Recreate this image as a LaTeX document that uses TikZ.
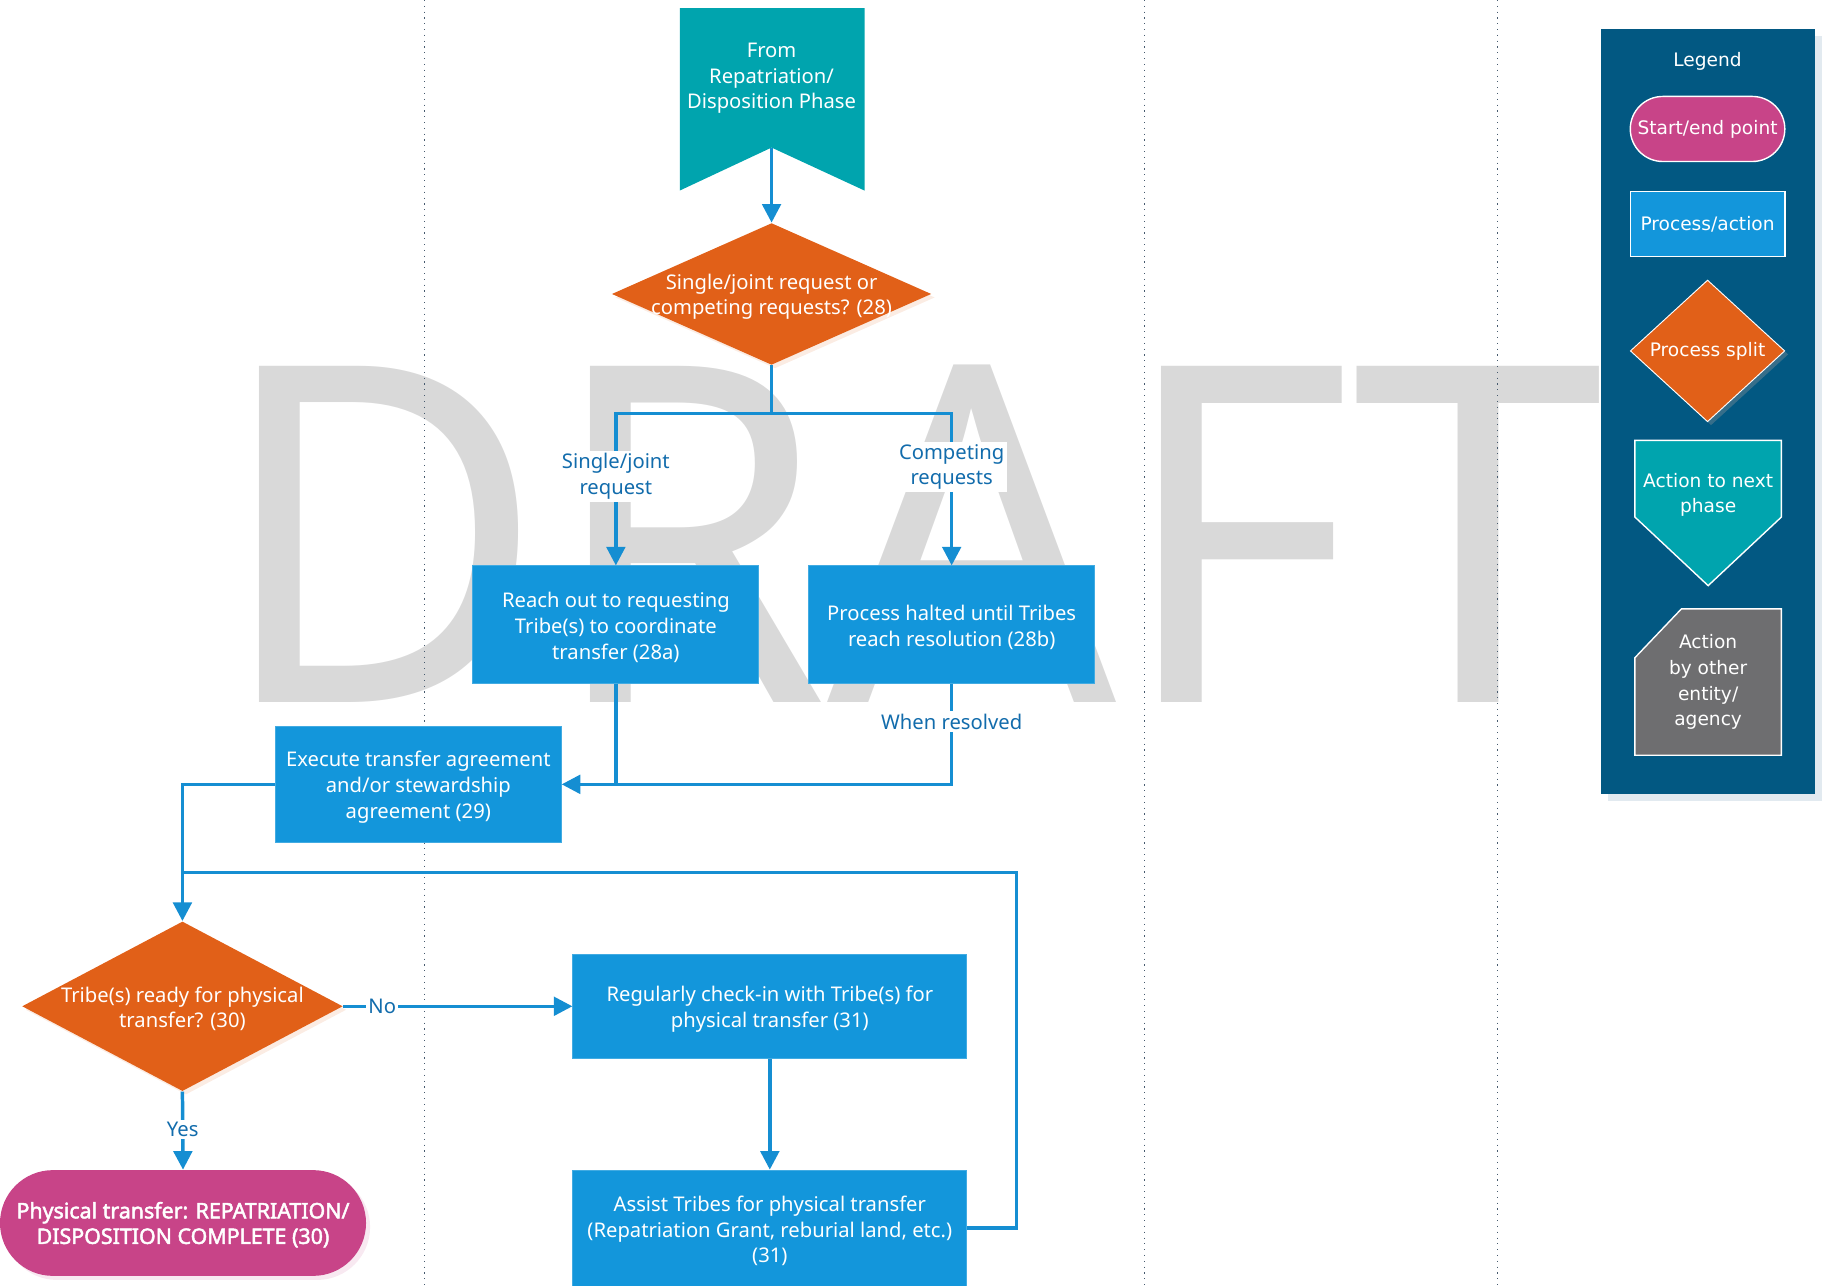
\documentclass[tikz,border=0pt]{standalone}
\usepackage{fontspec}
\setmainfont{Noto Sans}
\newfontfamily\legfont{DejaVu Sans}
\newfontfamily\termfont{Noto Sans}[FakeBold=2.2]
\usetikzlibrary{arrows.meta,shapes.geometric}
\definecolor{cblue}{RGB}{19,150,219}
\definecolor{corange}{RGB}{225,96,24}
\definecolor{cteal}{RGB}{0,164,174}
\definecolor{cpink}{RGB}{200,68,136}
\definecolor{cgray}{RGB}{110,110,112}
\definecolor{cnavy}{RGB}{2,88,130}
\definecolor{cline}{RGB}{21,142,210}
\definecolor{cwater}{RGB}{217,217,217}
\definecolor{clabel}{RGB}{18,108,172}
\definecolor{cdot}{RGB}{70,90,110}
\definecolor{cshadow}{RGB}{226,234,240}
\begin{document}
\begin{tikzpicture}[x=0.5pt,y=-0.5pt,
  txt/.style={font=\fontsize{8.7}{11}\selectfont, text=white, align=center, inner sep=0pt},
  procbox/.style={txt, rectangle, fill=cblue, draw=cblue!80!white, line width=0.4pt},
  ctext/.style={txt, yshift=-1.2pt},
  lbl/.style={font=\fontsize{8.7}{11}\selectfont, text=clabel, fill=white, align=center, inner sep=1pt},
  ln/.style={draw=cline, line width=1.5pt},
  conn/.style={ln, -{Triangle[length=8pt,width=8pt]}},
  gridline/.style={draw=cdot, line width=0.5pt, dotted},
  legtxt/.style={font=\legfont\fontsize{8}{11}\selectfont, text=white, align=center, inner sep=0pt},
  decision/.style={diamond, fill=corange, inner sep=0pt}
]
\useasboundingbox (0,0) rectangle (1568,1106);

% watermark
\node[anchor=south west, inner sep=0pt, text=cwater] (wm) at (185,605)
  {\resizebox{597pt}{145pt}{DRAFT}};

% swimlane separators
\draw[gridline] (365,0) -- (365,1106);
\draw[gridline] (985,0) -- (985,1106);
\draw[gridline] (1289,0) -- (1289,1106);

% top banner
\fill[cteal] (585,7) -- (744,7) -- (744,164) -- (664,127) -- (585,164) -- cycle;
\coordinate (notch) at (664,127);
\node[ctext] (from) at (664,65) {From\\Repatriation/\\Disposition Phase};

% decision 28
\node[decision, fill=corange!12, minimum width=137.5pt, minimum height=61pt] at (667,256) {};
\node[decision, minimum width=137.5pt, minimum height=61pt] (d28) at (664,253) {};
\node[ctext] (d28t) at (664,253) {Single/joint request or\\competing requests? (28)};

% process boxes
\node[procbox, minimum width=123pt, minimum height=50.5pt] (r28a) at (530,537.5) {};
\node[ctext] (t28a) at (r28a) {Reach out to requesting\\Tribe(s) to coordinate\\transfer (28a)};
\node[procbox, minimum width=123pt, minimum height=50.5pt] (r28b) at (819,537.5) {};
\node[ctext] (t28b) at (r28b) {Process halted until Tribes\\reach resolution (28b)};
\node[procbox, minimum width=123pt, minimum height=50pt] (r29) at (360,675) {};
\node[ctext] (t29) at (r29) {Execute transfer agreement\\and/or stewardship\\agreement (29)};
\node[procbox, minimum width=169.5pt, minimum height=45pt] (r31a) at (662.5,866) {};
\node[ctext] (t31a) at (r31a) {Regularly check-in with Tribe(s) for\\physical transfer (31)};
\node[procbox, minimum width=169.5pt, minimum height=50pt] (r31b) at (662.5,1057) {};
\node[ctext] (t31b) at (r31b) {Assist Tribes for physical transfer\\(Repatriation Grant, reburial land, etc.)\\(31)};

% decision 30
\node[decision, fill=corange!12, minimum width=138pt, minimum height=73pt] at (160,869) {};
\node[decision, minimum width=138pt, minimum height=73pt] (d30) at (157,866) {};
\node[ctext] (d30t) at (157,866) {Tribe(s) ready for physical\\transfer? (30)};

% terminal
\node[rectangle, rounded corners=22.75pt, fill=cpink!12, minimum width=157.5pt, minimum height=45.5pt] at (161,1056) {};
\node[rectangle, rounded corners=22.75pt, fill=cpink, minimum width=157.5pt, minimum height=45.5pt] (term) at (157.5,1052.5) {};
\node[ctext, font=\termfont\fontsize{9.2}{11}\selectfont] (termt) at (157.5,1051.5)
  {Physical transfer: REPATRIATION/\\DISPOSITION COMPLETE (30)};

% connectors
\coordinate (s1) at (664,356);
\coordinate (j1) at (530,675);
\coordinate (lp1) at (875,751);
\coordinate (lp2) at (157,751);
\draw[conn] (notch) -- (d28.north);
\draw[ln] (d28.south) -- (s1);
\draw[conn] (s1) -| (r28a.north);
\draw[conn] (s1) -| (r28b.north);
\node[lbl] (l1) at (530,410) {Single/joint\\request};
\node[lbl] (l2) at (819,402) {Competing\\requests};
\draw[ln] (r28b.south) |- (j1);
\draw[conn] (r28a.south) |- (r29.east);
\node[lbl] (l3) at (819,621) {When resolved};
\draw[conn] (r29.west) -| (d30.north);
\draw[ln] (r31b.east) -| (lp1) -- (lp2);
\draw[conn] (d30.east) -- (r31a.west) node[lbl, pos=0.17] (lno) {No};
\draw[conn] (d30.south) -- (term.north) node[lbl, pos=0.49] (lyes) {Yes};
\draw[conn] (r31a.south) -- (r31b.north);

% legend
\fill[cshadow] (1384,31) rectangle (1568,689);
\fill[cnavy] (1378,25) rectangle (1562,683);
\node[legtxt] (legt) at (1469.5,53) {Legend};
\node[legtxt, rectangle, rounded corners=14pt, fill=cpink, draw=white, line width=0.6pt,
  minimum width=66.5pt, minimum height=28pt] (lse) at (1469.5,111) {Start/end point};
\node[legtxt, rectangle, fill=cblue, draw=white, line width=0.6pt,
  minimum width=66.5pt, minimum height=28pt] (lpa) at (1469.5,193) {Process/action};
\node[decision, fill=black!40, opacity=0.35, minimum width=66.5pt, minimum height=61pt] at (1472.5,305) {};
\node[decision, draw=white, line width=0.4pt, minimum width=66.5pt, minimum height=61pt] (lps) at (1469.5,302) {};
\node[legtxt] (lpst) at (1469.5,302) {Process split};
\filldraw[fill=cteal, draw=white, line width=0.6pt] (1407,379) -- (1533,379) -- (1533,445) -- (1470,504) -- (1407,445) -- cycle;
\node[legtxt] (lan) at (1470,426) {Action to next\\phase};
\filldraw[fill=cgray, draw=white, line width=0.6pt] (1447,524) -- (1533,524) -- (1533,650) -- (1407,650) -- (1407,566) -- cycle;
\node[legtxt] (lao) at (1470,587) {Action\\by other\\entity/\\agency};
\end{tikzpicture}
\end{document}
